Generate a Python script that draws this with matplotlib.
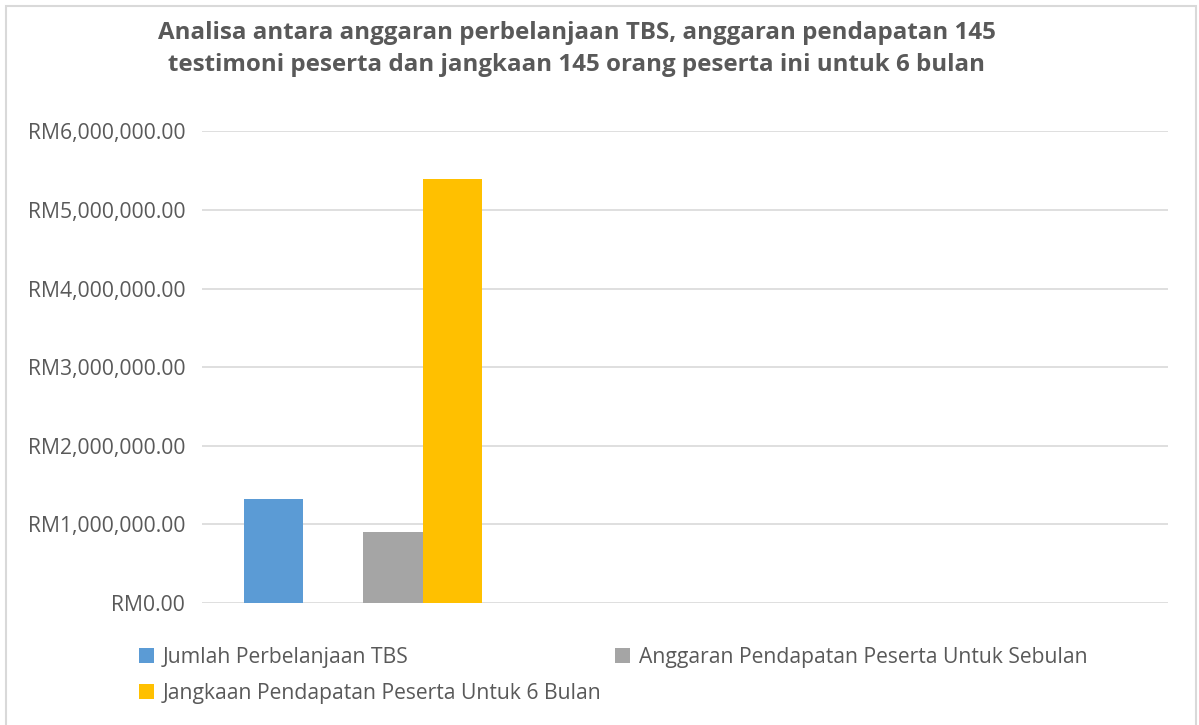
import numpy as np
import matplotlib
matplotlib.use("Agg")
import matplotlib.pyplot as plt
from matplotlib.patches import Rectangle, Patch
from matplotlib.ticker import FuncFormatter

# ---- data ----
categories = ["", "", ""]
series_names = ["Jumlah Perbelanjaan TBS", None,
                "Anggaran Pendapatan Peserta Untuk Sebulan",
                "Jangkaan Pendapatan Peserta Untuk 6 Bulan"]
jumlah_perbelanjaan = [1325000, np.nan, np.nan]
kosong = [np.nan, np.nan, np.nan]
anggaran_sebulan = [900000, np.nan, np.nan]
jangkaan_6_bulan = [5400000, np.nan, np.nan]
y_ticks = [0, 1000000, 2000000, 3000000, 4000000, 5000000, 6000000]
title_text = ("Analisa antara anggaran perbelanjaan TBS, anggaran pendapatan 145\n"
              "testimoni peserta dan jangkaan 145 orang peserta ini untuk 6 bulan")

series_values = [jumlah_perbelanjaan, kosong, anggaran_sebulan, jangkaan_6_bulan]
colors = ["#5B9BD5", "#ED7D31", "#A5A5A5", "#FFC000"]

plt.rcParams['font.family'] = ['Open Sans', 'DejaVu Sans']
text_color = "#595959"
grid_color = "#D9D9D9"

fig = plt.figure(figsize=(11.99, 7.25), dpi=100)
ax = fig.add_axes([202/1199, 1-603/725, (1168-202)/1199, (603-131.4)/725])

n_series = len(series_values)
gap = 1.41
bw = 1.0 / (n_series + gap)
x = np.arange(len(categories))
for i, (vals, c) in enumerate(zip(series_values, colors)):
    offs = (i - (n_series - 1) / 2) * bw
    ax.bar(x + offs, vals, width=bw, color=c, zorder=3, linewidth=0)

ax.set_xlim(-0.5, len(categories) - 0.5)
ax.set_ylim(y_ticks[0], y_ticks[-1])
ax.set_yticks(y_ticks)
ax.yaxis.set_major_formatter(FuncFormatter(lambda v, p: "RM{:,.2f}".format(v)))
ax.set_xticks([])
ax.grid(axis='y', color=grid_color, linewidth=1.2, zorder=0)
for s in ax.spines.values():
    s.set_visible(False)
ax.tick_params(axis='y', length=0, pad=12, labelsize=15.2, labelcolor=text_color)
ax.set_facecolor("none")

fig.text(577/1199, 1-49/725, title_text, ha='center', va='center',
         fontsize=17.4, fontweight='bold', color=text_color, linespacing=1.4)

# legend
handles = []
labels = []
order = [0, 3, 2]
for i in order:
    handles.append(Patch(facecolor=colors[i], edgecolor='none'))
    labels.append(series_names[i])
leg = fig.legend(handles, labels, ncol=2, loc='upper left',
                 bbox_to_anchor=(128/1199, 1-636/725), frameon=False,
                 fontsize=15.2, labelcolor=text_color, handlelength=0.72,
                 handleheight=0.72, handletextpad=0.4, columnspacing=0.66,
                 labelspacing=0.72, borderpad=0)

# chart border
fig.patches.append(Rectangle((6/1199, -0.05), (1196-6)/1199, 1.05 - 6/725,
                             transform=fig.transFigure, fill=False,
                             edgecolor=grid_color, linewidth=1.5, zorder=0))

fig.savefig("out.png", dpi=100)
